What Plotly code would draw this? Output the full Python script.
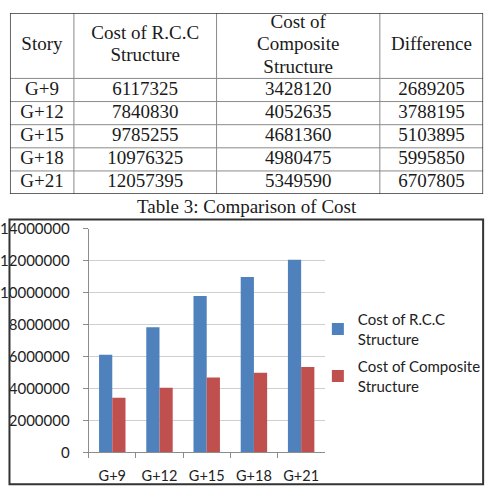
import plotly.graph_objects as go

W, H = 491, 497

stories = ["G+9", "G+12", "G+15", "G+18", "G+21"]
rcc_cost = [6117325, 7840830, 9785255, 10976325, 12057395]
composite_cost = [3428120, 4052635, 4681360, 4980475, 5349590]
difference = [2689205, 3788195, 5103895, 5995850, 6707805]

headers = ["Story", "Cost of R.C.C<br>Structure", "Cost of<br>Composite<br>Structure", "Difference"]
caption = "Table 3: Comparison of Cost"
series_names = ["Cost of R.C.C<br>Structure", "Cost of Composite<br>Structure"]
colors = ["#4F81BD", "#C0504D"]

# table geometry (pixel units inside the table axes)
col_widths = [65, 145, 166, 105]
header_h = 68
row_h = 24
header_line_h = 23
table_font = dict(family="Liberation Serif", size=19, color="#1a1a1a")

def px_x(p):
    return p / W

def px_y(p):
    return 1 - p / H

col_edges = [0]
for w in col_widths:
    col_edges.append(col_edges[-1] + w)
n_rows = len(stories)
table_h = header_h + n_rows * row_h
table_top = 3
row_edges = [0, header_h] + [header_h + row_h * (i + 1) for i in range(n_rows)]
row_centers = [(row_edges[i] + row_edges[i + 1]) / 2 for i in range(len(row_edges) - 1)]

fig = go.Figure()

# chart bars
for name, vals, col in zip(series_names, [rcc_cost, composite_cost], colors):
    fig.add_trace(go.Bar(x=stories, y=vals, name=name, legendgroup=name,
                         marker=dict(color=col, line=dict(width=0))))

# table as text on its own axes
table_cols = [stories, [str(v) for v in rcc_cost], [str(v) for v in composite_cost], [str(v) for v in difference]]
for ci, (hdr, col_vals) in enumerate(zip(headers, table_cols)):
    cx = (col_edges[ci] + col_edges[ci + 1]) / 2
    lines = hdr.split("<br>")
    n = len(lines)
    hy = [row_centers[0] + (k - (n - 1) / 2) * header_line_h for k in range(n)]
    fig.add_trace(go.Scatter(
        x=[cx] * (n + n_rows), y=hy + row_centers[1:], text=lines + col_vals,
        mode="text", textposition="middle center", cliponaxis=False,
        textfont=table_font,
        xaxis="x2", yaxis="y2", showlegend=False, hoverinfo="skip",
    ))

shapes = []
for e in row_edges[1:-1]:
    shapes.append(dict(type="line", xref="x2", yref="y2", x0=0, x1=col_edges[-1], y0=e, y1=e,
                       line=dict(color="#8a8a8a", width=1)))
for e in col_edges[1:-1]:
    shapes.append(dict(type="line", xref="x2", yref="y2", x0=e, x1=e, y0=0, y1=table_h,
                       line=dict(color="#8a8a8a", width=1)))
shapes.append(dict(type="rect", xref="x2", yref="y2", x0=0, x1=col_edges[-1], y0=0, y1=table_h,
                   line=dict(color="#333", width=1.5)))
shapes.append(dict(type="rect", xref="paper", yref="paper",
                   x0=px_x(1.5), x1=px_x(483), y0=px_y(492), y1=px_y(217.5),
                   line=dict(color="#333", width=2)))

fig.update_layout(
    width=W, height=H,
    margin=dict(l=0, r=0, t=0, b=0),
    paper_bgcolor="white", plot_bgcolor="rgba(0,0,0,0)",
    barmode="group", bargap=0.44, bargroupgap=0,
    font=dict(family="Lato", size=14, color="#222"),
    xaxis=dict(
        domain=[px_x(82), px_x(322)], type="category",
        showline=True, linecolor="#8c8c8c", linewidth=1,
        ticks="outside", tickson="boundaries", ticklen=5, tickcolor="#8c8c8c",
        showgrid=False, tickfont=dict(family="Lato", size=14.5, color="#222"),
        ticklabelstandoff=10, fixedrange=True,
    ),
    yaxis=dict(
        domain=[1 - 459 / H, 1 - 227 / H], range=[0, 14000000], dtick=2000000,
        tickformat="d",
        showline=True, linecolor="#8c8c8c", linewidth=1,
        ticks="outside", ticklen=5, tickcolor="#8c8c8c",
        showgrid=True, gridcolor="#cfcfcf", gridwidth=1, zeroline=False,
        tickfont=dict(family="Lato", size=15, color="#222"),
        ticklabelstandoff=10, fixedrange=True,
    ),
    xaxis2=dict(domain=[px_x(2), px_x(2 + col_edges[-1])], range=[0, col_edges[-1]],
                visible=False, fixedrange=True, anchor="y2"),
    yaxis2=dict(domain=[px_y(table_top + table_h), px_y(table_top)], range=[table_h, 0],
                visible=False, fixedrange=True, anchor="x2"),
    legend=dict(
        x=px_x(315), y=px_y(304), xanchor="left", yanchor="top",
        font=dict(family="Lato", size=15, color="#222"),
        bgcolor="rgba(0,0,0,0)", tracegroupgap=5,
    ),
    shapes=shapes,
    annotations=[
        dict(text=caption, xref="paper", yref="paper", x=px_x(243), y=px_y(204),
             xanchor="center", yanchor="middle", showarrow=False,
             font=dict(family="Liberation Serif", size=19, color="#1a1a1a")),
    ],
)

fig.write_html("out.html")
